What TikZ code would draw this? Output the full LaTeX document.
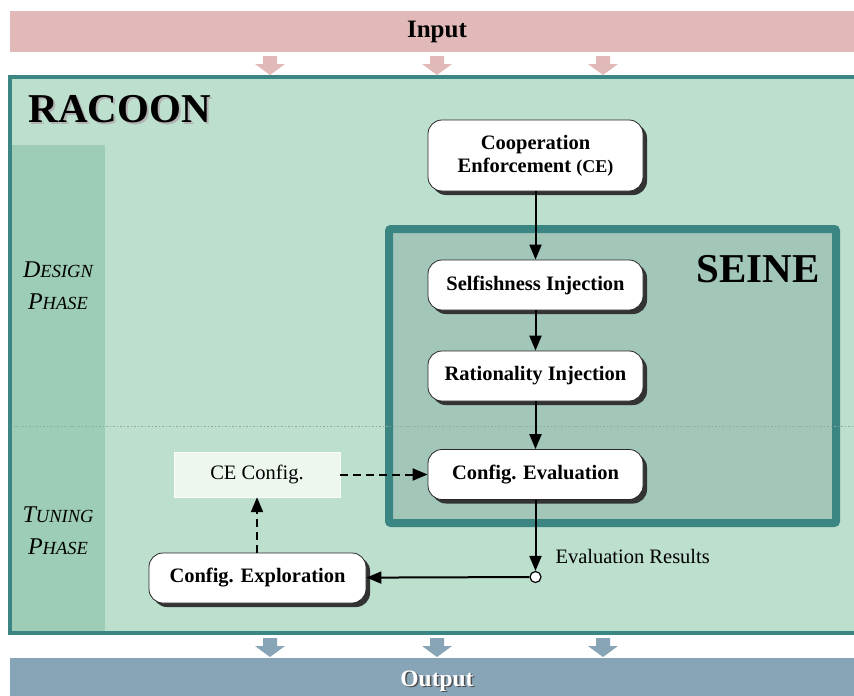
\documentclass[tikz,border=0pt]{standalone}
\usepackage{fontspec}
\setmainfont{Liberation Serif}
\usetikzlibrary{arrows.meta,shadows}
\definecolor{inpink}{HTML}{E1B9B9}
\definecolor{racfill}{HTML}{BCDFCE}
\definecolor{colfill}{HTML}{9DCDB6}
\definecolor{tealb}{HTML}{3B8582}
\definecolor{seinefill}{HTML}{A2C6B8}
\definecolor{outblue}{HTML}{88A5B8}
\definecolor{cfgfill}{HTML}{EEF7EE}
\definecolor{dotgray}{HTML}{8FAA9E}
\tikzset{
  proc/.style={draw=black!85, line width=0.8pt, fill=white, rounded corners=14pt,
    minimum width=215pt, minimum height=50pt, align=center,
    font=\fontsize{20.5}{23}\selectfont\bfseries,
    drop shadow={shadow xshift=4pt, shadow yshift=-4pt, fill=black!80, opacity=1}},
  arr/.style={line width=2pt, -{Triangle[length=15pt,width=12pt]}},
  dasharr/.style={arr, dash pattern=on 8pt off 5pt},
  phasetxt/.style={font=\fontsize{24}{32}\selectfont\itshape, align=center}
}
\newcommand{\fatarrow}[4]{% x, ytop, color, total height
  \fill[#3] (#1-7,#2) -- (#1+7,#2) -- (#1+7,#2+8) -- (#1+15,#2+8) -- (#1,#2+#4) -- (#1-15,#2+8) -- (#1-7,#2+8) -- cycle;}
\newcommand{\smc}[1]{{\fontsize{18.5}{32}\selectfont #1}}
\begin{document}
\begin{tikzpicture}[x=1pt,y=-1pt]
\useasboundingbox (0,0) rectangle (854,696);
\clip (0,0) rectangle (854,696);
\fill[white] (0,0) rectangle (854,696);
% input bar
\fill[inpink] (10,11) rectangle (870,52);
\node[font=\fontsize{25}{27}\selectfont\bfseries] (input) at (437,32) {Input};
\fatarrow{270}{56}{inpink}{19}
\fatarrow{437}{56}{inpink}{19}
\fatarrow{603}{56}{inpink}{19}
% racoon box
\fill[racfill] (10,77) rectangle (870,633);
\fill[colfill] (12,145) rectangle (105,632);
\draw[tealb, line width=4pt] (10,77) rectangle (870,633);
\node[anchor=base west, font=\fontsize{41}{44}\selectfont\bfseries, text=black!30] at (27,124) {RACOON};
\node[anchor=base west, font=\fontsize{41}{44}\selectfont\bfseries] (racoon) at (25,122) {RACOON};
% phase labels
\node[phasetxt] (design) at (58,286) {D\smc{ESIGN}\\P\smc{HASE}};
\node[phasetxt] (tuning) at (58,531) {T\smc{UNING}\\P\smc{HASE}};
% seine box
\draw[tealb, line width=8pt, fill=seinefill, rounded corners=2pt] (389,229) rectangle (836,523);
\node[anchor=base east, font=\fontsize{41}{44}\selectfont\bfseries] (seine) at (823,282) {SEINE};
% dotted phase separator
\draw[dotgray, line width=1pt, dash pattern=on 1.5pt off 2pt] (15,426) -- (854,426);
% nodes
\node[proc, minimum height=71pt] (ce) at (535.5,155.5) {Cooperation\\Enforcement {\fontsize{18}{23}\selectfont (CE)}};
\node[proc] (self) at (535.5,285) {Selfishness Injection};
\node[proc] (rat) at (535.5,376) {Rationality Injection};
\node[proc] (eval) at (535.5,474.5) {Config. Evaluation};
\node[fill=cfgfill, draw=white!70!cfgfill, minimum width=166pt, minimum height=45pt, font=\fontsize{20.5}{23}\selectfont] (cecfg) at (257,474.5) {CE Config.};
\node[proc, minimum width=217pt] (expl) at (257.5,578) {Config. Exploration};
\node[circle, draw=black, line width=1.2pt, fill=white, inner sep=0pt, minimum size=11pt] (j) at (535.5,577) {};
\node[anchor=west, font=\fontsize{20.5}{23}\selectfont] (evres) at (552,556) {Evaluation Results};
% connectors
\draw[arr] (ce) -- (self);
\draw[arr] (self) -- (rat);
\draw[arr] (rat) -- (eval);
\draw[arr] (eval) -- (j);
\draw[arr] (j) -- (expl);
\draw[dasharr] (expl.north -| cecfg) -- (cecfg);
\draw[dasharr] (cecfg) -- (eval);
% output
\fatarrow{270}{638}{outblue}{19}
\fatarrow{437}{638}{outblue}{19}
\fatarrow{603}{638}{outblue}{19}
\fill[outblue] (10,658) rectangle (870,700);
\node[font=\fontsize{23.5}{25}\selectfont\bfseries, text=black!70] at (438.5,682.5) {Output};
\node[font=\fontsize{23.5}{25}\selectfont\bfseries, text=white] (output) at (437,681) {Output};
\end{tikzpicture}
\end{document}
